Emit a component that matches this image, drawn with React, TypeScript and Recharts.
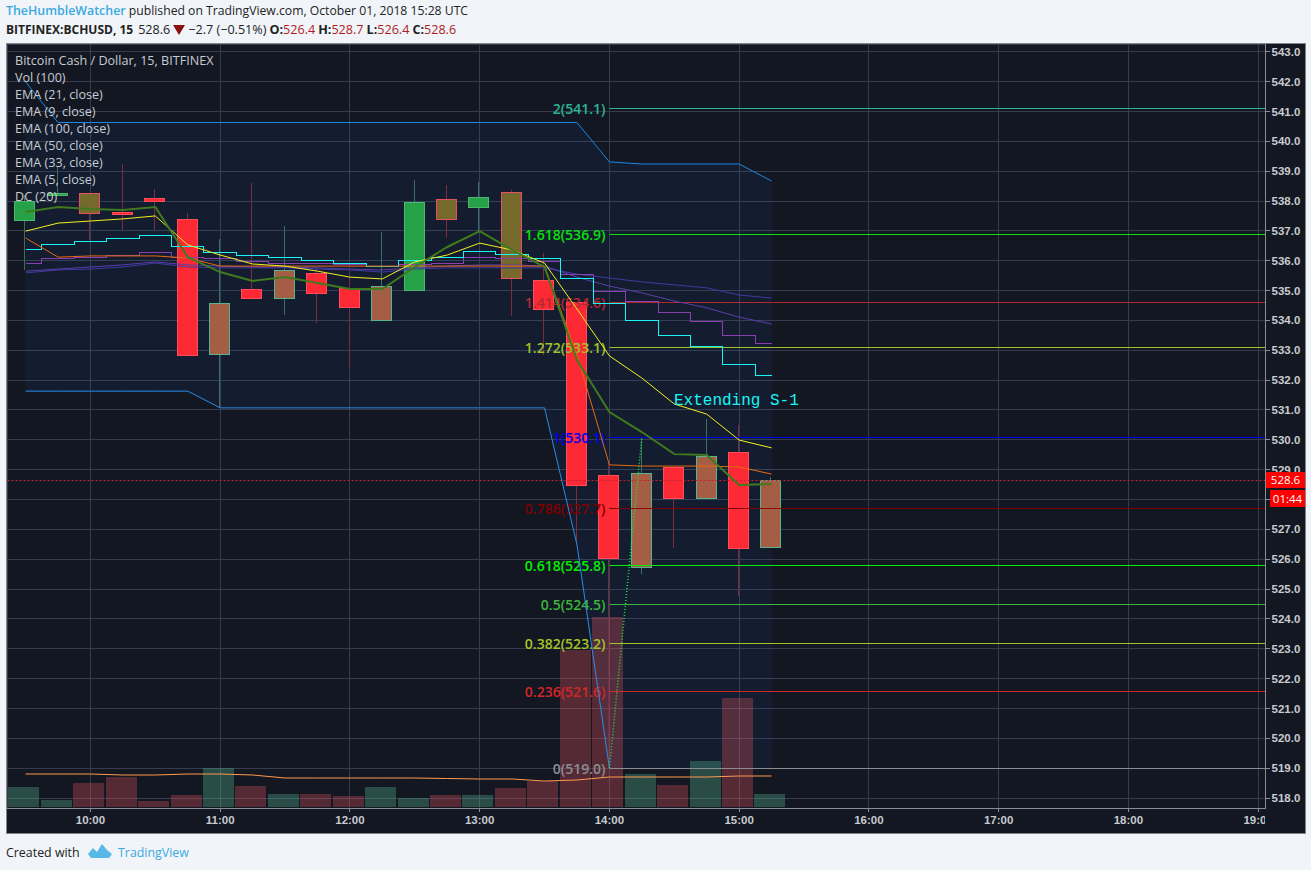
import React from 'react';
import {
  ComposedChart, Bar, Line, Area, XAxis, YAxis, CartesianGrid, ReferenceLine,
} from 'recharts';

// bar times, minutes since midnight
const times = [570, 585, 600, 615, 630, 645, 660, 675, 690, 705, 720, 735, 750, 765, 780, 795, 810, 825, 840, 855, 870, 885, 900, 915];

const opens = [537.36, 538.2, 538.27, 537.63, 538.1, 537.4, 532.87, 535.05, 534.75, 535.59, 535.09, 534.01, 535.02, 538.07, 537.8, 538.3, 535.35, 534.62, 528.82, 525.74, 529.09, 528.05, 529.59, 526.4];
const highs = [538.2, 539.14, 538.27, 539.24, 538.4, 537.6, 536.73, 538.6, 537.16, 535.79, 535.45, 536.96, 538.7, 538.54, 538.64, 538.37, 536.26, 534.62, 529.22, 530.06, 529.09, 530.7, 530.5, 528.75];
const lows = [535.69, 538.2, 536.69, 537.03, 537.03, 532.84, 531.07, 534.75, 534.18, 533.91, 532.41, 534.01, 535.02, 536.76, 536.99, 534.15, 532.84, 526.48, 519.0, 525.5, 526.38, 528.0, 524.77, 526.4];
const closes = [538.0, 538.27, 537.6, 537.56, 538.0, 532.84, 534.58, 534.75, 535.69, 534.92, 534.45, 535.15, 537.97, 537.4, 538.13, 535.42, 534.38, 528.49, 526.04, 528.89, 528.05, 529.46, 526.38, 528.65];
// bars whose body colour is overridden by the bar-colour script
const repainted = [false, false, true, false, false, false, true, false, true, false, false, true, false, true, false, true, false, false, false, true, false, true, false, true];

const volumes = [20, 7, 24, 30, 6, 12, 39, 21, 13, 13, 11, 20, 9, 12, 12, 19, 26, 157, 190, 33, 22, 46, 109, 13];
const volumeMa = [33, 33, 33, 32, 32, 33, 33, 32, 29, 29, 29, 29, 29, 28.5, 28, 28, 26, 27, 30, 30, 30, 30, 31, 31];
const volumeUp = [true, true, false, false, false, false, true, false, true, false, false, true, true, false, true, false, false, false, false, true, false, true, false, true];

const ema5 = [537.63, 537.8, 537.73, 537.7, 537.8, 536.12, 535.62, 535.32, 535.45, 535.25, 535.05, 535.05, 535.79, 536.46, 536.99, 536.36, 535.79, 532.67, 530.93, 530.26, 529.52, 529.49, 528.49, 528.52];
const ema9 = [536.99, 537.26, 537.33, 537.4, 537.5, 536.53, 536.19, 535.89, 535.82, 535.65, 535.45, 535.39, 535.96, 536.19, 536.59, 536.36, 535.92, 534.38, 532.81, 532.07, 531.2, 530.86, 529.99, 529.73];
const ema21 = [536.76, 536.12, 536.16, 536.16, 536.16, 536.09, 535.82, 535.82, 535.82, 535.82, 535.82, 535.82, 535.82, 535.82, 535.82, 535.82, 535.82, 532.84, 529.16, 529.12, 529.12, 529.12, 529.09, 528.85];
const ema33 = [536.36, 536.53, 536.63, 536.73, 536.83, 536.46, 536.29, 536.16, 536.12, 536.02, 535.89, 535.79, 536.02, 536.12, 536.32, 536.22, 536.06, 535.39, 534.55, 534.01, 533.48, 533.11, 532.51, 532.17];
const ema50 = [535.92, 536.06, 536.12, 536.19, 536.29, 536.12, 536.06, 535.96, 535.92, 535.89, 535.86, 535.82, 535.86, 535.92, 536.12, 536.09, 535.99, 535.55, 534.98, 534.62, 534.25, 533.95, 533.51, 533.24];
const emaSlow = [535.65, 535.72, 535.79, 535.86, 535.96, 535.86, 535.82, 535.79, 535.79, 535.76, 535.72, 535.69, 535.76, 535.82, 535.86, 535.86, 535.82, 535.45, 535.15, 534.92, 534.65, 534.42, 534.11, 533.88];
const ema100 = [535.59, 535.69, 535.72, 535.79, 535.92, 535.79, 535.76, 535.76, 535.76, 535.72, 535.69, 535.62, 535.72, 535.76, 535.76, 535.76, 535.76, 535.55, 535.42, 535.29, 535.19, 535.09, 534.85, 534.75];

const dcUpper = [541.99, 540.63, 540.63, 540.63, 540.63, 540.63, 540.63, 540.63, 540.63, 540.63, 540.63, 540.63, 540.63, 540.63, 540.63, 540.63, 540.63, 540.63, 539.31, 539.24, 539.24, 539.24, 539.24, 538.67];
const dcLower = [531.63, 531.63, 531.63, 531.63, 531.63, 531.63, 531.07, 531.07, 531.07, 531.07, 531.07, 531.07, 531.07, 531.07, 531.07, 531.07, 531.07, 526.48, 519.0, 519.0, 519.0, 519.0, 519.0, 519.0];

const fibRatios = ['2', '1.618', '1.414', '1.272', '1', '0.786', '0.618', '0.5', '0.382', '0.236', '0'];
const fibPrices = [541.1, 536.9, 534.6, 533.1, 530.1, 527.7, 525.8, 524.5, 523.2, 521.6, 519.0];
const fibColors = ['#2bb594', '#0be00b', '#b02a30', '#a0c22a', '#0000f0', '#800000', '#06f006', '#3cb53c', '#a5c427', '#d32626', '#8a8d93'];

const priceTicks = [518, 519, 520, 521, 522, 523, 524, 525, 526, 527, 528, 529, 530, 531, 532, 533, 534, 535, 536, 537, 538, 539, 540, 541, 542, 543];
const timeTicks = [600, 660, 720, 780, 840, 900, 960, 1020, 1080, 1140];
const legendNames = ['Bitcoin Cash / Dollar, 15, BITFINEX', 'Vol (100)', 'EMA (21, close)', 'EMA (9, close)', 'EMA (100, close)', 'EMA (50, close)', 'EMA (33, close)', 'EMA (5, close)', 'DC (20)'];

const rows = times.map((t, i) => ({
  t,
  open: opens[i],
  high: highs[i],
  low: lows[i],
  close: closes[i],
  repainted: repainted[i],
  vol: volumes[i],
  volUp: volumeUp[i],
  volMa: volumeMa[i],
  ema5: ema5[i],
  ema9: ema9[i],
  ema21: ema21[i],
  ema33: ema33[i],
  ema50: ema50[i],
  emaSlow: emaSlow[i],
  ema100: ema100[i],
  dcUpper: dcUpper[i],
  dcLower: dcLower[i],
  dcLowerLine: t <= 840 ? dcLower[i] : null,
  // dotted fib trend line from the 14:00 low to the 14:15 high
  trend: t === 840 ? 519.0 : t === 855 ? 530.1 : null,
}));

const BG = '#131722';
const GRID = '#363c4e';
const TIME_DOMAIN: [number, number] = [561.4, 1143.4];

function Candle({ x, y, width, height, payload }: any) {
  const { open, high, low, close, repainted: painted } = payload;
  const px = (p: number) => y + ((high - p) / (high - low)) * height;
  const up = close >= open;
  const top = px(Math.max(open, close));
  const bottom = px(Math.min(open, close));
  const mid = Math.round(x + width / 2) - 0.5;
  const border = up ? (painted ? '#55b58c' : '#4db672') : painted ? '#e4505f' : '#ff4d5b';
  const body = painted ? (up ? '#a55e45' : '#75692c') : up ? '#27a147' : '#fd2a35';
  const wick = up ? '#3d6e63' : '#7d2c3e';
  return (
    <g>
      <line x1={mid} x2={mid} y1={y} y2={y + height} stroke={wick} strokeWidth={1} />
      <rect
        x={mid - 10}
        y={Math.round(top) + 0.5}
        width={20}
        height={Math.max(Math.round(bottom - top), 1)}
        fill={body}
        stroke={border}
        strokeWidth={1}
      />
    </g>
  );
}

// the platform draws its volume columns a touch left of the bar time
function VolumeColumn({ x, y, width, height, payload }: any) {
  return (
    <rect
      x={Math.round(x) - 2}
      y={y}
      width={width}
      height={height}
      fill={payload.volUp ? 'rgba(92,200,154,0.3)' : 'rgba(239,86,100,0.3)'}
    />
  );
}

// level lines sit on whole pixels, so they stay one pixel wide
function LevelLine({ x1, x2, y1, stroke, strokeDasharray }: any) {
  const y = Math.round(y1) + 0.5;
  return <line x1={x1} x2={x2} y1={y} y2={y} stroke={stroke} strokeWidth={1} strokeDasharray={strokeDasharray} />;
}

function FibLabel({ viewBox, text, color }: any) {
  return (
    <text
      x={viewBox.x - 4}
      y={viewBox.y + 6}
      textAnchor="end"
      fill={color}
      fontSize={14}
      fontWeight={600}
      fontFamily="'Open Sans', sans-serif"
    >
      {text}
    </text>
  );
}

const font = "'Open Sans', sans-serif";
const redValue = { color: '#b01c1c' };
const crisp = `.recharts-cartesian-grid line, .recharts-cartesian-axis-line, .recharts-cartesian-axis-tick-line, .step-line path { shape-rendering: crispEdges; }`;

export default function App() {
  return (
    <div style={{ position: 'fixed', left: 0, top: 0, width: 1311, height: 870, background: '#f1f5f9', fontFamily: font, overflow: 'hidden' }}>
      <style>{crisp}</style>
      {/* header */}
      <div style={{ position: 'absolute', left: 6, top: 2, fontSize: 12.2, whiteSpace: 'nowrap', color: '#222' }}>
        <span style={{ color: '#3ba9e0', fontWeight: 600, fontSize: 12.4 }}>TheHumbleWatcher</span> published on TradingView.com, October 01, 2018 15:28 UTC
      </div>
      <div style={{ position: 'absolute', left: 6, top: 21, fontSize: 12.6, whiteSpace: 'nowrap', color: '#222', display: 'flex', alignItems: 'center', gap: 3 }}>
        <b style={{ fontSize: 12 }}>BITFINEX:BCHUSD, 15</b>
        <span style={{ marginLeft: 2 }}>528.6</span>
        <svg width={12} height={10} viewBox="0 0 12 10"><path d="M0 0 L12 0 L6 10 Z" fill="#8b1010" /></svg>
        <span>−2.7 (−0.51%)</span>
        <span><b>O:</b><span style={redValue}>526.4</span></span>
        <span><b>H:</b><span style={redValue}>528.7</span></span>
        <span><b>L:</b><span style={redValue}>526.4</span></span>
        <span><b>C:</b><span style={redValue}>528.6</span></span>
      </div>

      {/* chart panel */}
      <div style={{ position: 'absolute', left: 6, top: 43, width: 1298, height: 789, background: BG, border: '1px solid #80848c' }}>
        <ComposedChart
          width={1298}
          height={789}
          data={rows}
          margin={{ top: 0, right: 0, bottom: 0, left: 0 }}
        >
          <CartesianGrid stroke={GRID} strokeWidth={1} yAxisId="price" />
          <XAxis
            dataKey="t"
            type="number"
            domain={TIME_DOMAIN}
            ticks={timeTicks}
            interval={0}
            allowDataOverflow
            height={25}
            tickSize={4}
            tickMargin={4}
            stroke="#8a8d93"
            tick={{ fill: '#c8cbd0', fontSize: 11.5, fontWeight: 700, fontFamily: "'Liberation Sans', sans-serif" }}
            tickFormatter={(m: number) => `${Math.floor(m / 60)}:00`}
          />
          {/* second time axis so the volume bars do not share slots with the candles */}
          <XAxis xAxisId="volTime" dataKey="t" type="number" domain={TIME_DOMAIN} allowDataOverflow hide height={25} />
          <YAxis
            yAxisId="price"
            orientation="right"
            type="number"
            domain={[517.665, 543.26]}
            ticks={priceTicks}
            interval={0}
            allowDataOverflow
            width={39.5}
            tickSize={4}
            tickMargin={2}
            stroke="#8a8d93"
            tick={{ fill: '#c8cbd0', fontSize: 11.5, fontWeight: 700, fontFamily: "'Liberation Sans', sans-serif" }}
            tickFormatter={(v: number) => v.toFixed(1)}
          />
          <YAxis yAxisId="vol" hide type="number" domain={[-1, 763]} allowDataOverflow />

          <Area
            yAxisId="price"
            dataKey={(d: any) => [d.dcLower, Math.min(d.dcUpper, dcUpper[1])]}
            stroke="none"
            fill="#1a7ff0"
            fillOpacity={0.065}
            dot={false}
            activeDot={false}
            isAnimationActive={false}
          />

          <Bar xAxisId="volTime" yAxisId="vol" dataKey="vol" barSize={31} shape={<VolumeColumn />} isAnimationActive={false} />
          <Line yAxisId="vol" dataKey="volMa" stroke="#ff9a4d" strokeWidth={1} dot={false} isAnimationActive={false} />

          <ReferenceLine yAxisId="price" y={closes[closes.length - 1]} stroke="#c8202c" strokeDasharray="2 2" shape={<LevelLine />} />
          {fibPrices.map((p, i) => (
            <ReferenceLine
              key={fibRatios[i]}
              yAxisId="price"
              segment={[{ x: 840, y: p }, { x: TIME_DOMAIN[1], y: p }]}
              stroke={fibColors[i]}
              strokeWidth={1}
              shape={<LevelLine />}
              label={<FibLabel text={`${fibRatios[i]}(${p.toFixed(1)})`} color={fibColors[i]} />}
            />
          ))}

          <Line yAxisId="price" dataKey="ema100" stroke="#3f3aa0" strokeWidth={1} dot={false} isAnimationActive={false} />
          <Line yAxisId="price" dataKey="emaSlow" stroke="#5b3fa8" strokeWidth={1} dot={false} isAnimationActive={false} />
          <Line className="step-line" yAxisId="price" type="step" dataKey="ema50" stroke="#8a3fb0" strokeWidth={1} dot={false} isAnimationActive={false} />
          <Line className="step-line" yAxisId="price" type="step" dataKey="ema33" stroke="#19f5f5" strokeWidth={1} dot={false} isAnimationActive={false} />
          <Line yAxisId="price" dataKey="ema21" stroke="#e8690f" strokeWidth={1} dot={false} isAnimationActive={false} />
          <Line yAxisId="price" dataKey="ema9" stroke="#f5f01e" strokeWidth={1} dot={false} isAnimationActive={false} />
          <Line yAxisId="price" dataKey="ema5" stroke="#3f7a1e" strokeWidth={2} dot={false} isAnimationActive={false} />
          <Line yAxisId="price" dataKey="dcUpper" stroke="#1e88e5" strokeWidth={1} dot={false} isAnimationActive={false} />
          <Line yAxisId="price" dataKey="dcLowerLine" stroke="#2a8ce8" strokeWidth={1} dot={false} isAnimationActive={false} />
          <Line yAxisId="price" dataKey="trend" stroke="#1ee040" strokeWidth={1.5} strokeDasharray="1 2" dot={false} isAnimationActive={false} />

          <Bar
            yAxisId="price"
            dataKey={(d: any) => [d.low, d.high]}
            barSize={20}
            shape={<Candle />}
            isAnimationActive={false}
          />
        </ComposedChart>

        {/* covers the part of the last time label that runs past the plot */}
        <div style={{ position: 'absolute', left: 1258, top: 767, width: 40, height: 22, background: BG }} />

        {/* indicator legend */}
        <div style={{ position: 'absolute', left: 8, top: 8, fontSize: 12.6, lineHeight: '17px', color: '#c8ccd2', whiteSpace: 'nowrap' }}>
          {legendNames.map((n) => <div key={n}>{n}</div>)}
        </div>

        <div style={{ position: 'absolute', left: 667, top: 347, fontSize: 16, lineHeight: '20px', color: '#19f5f5', fontFamily: "'Liberation Mono', monospace", whiteSpace: 'nowrap' }}>
          Extending S-1
        </div>

        {/* last price and countdown tags */}
        <div style={{ position: 'absolute', left: 1259, top: 428, width: 39, height: 16, background: '#ff0000', color: '#fff', fontSize: 11.5, lineHeight: '16px', textAlign: 'center' }}>528.6</div>
        <div style={{ position: 'absolute', left: 1263, top: 446, width: 35, height: 17, background: '#ff0000', color: '#fff', fontSize: 11.5, lineHeight: '17px', textAlign: 'center' }}>01:44</div>
      </div>

      {/* footer */}
      <div style={{ position: 'absolute', left: 6, top: 844, fontSize: 12.4, color: '#222', whiteSpace: 'nowrap' }}>Created with</div>
      <svg style={{ position: 'absolute', left: 88, top: 843 }} width={24} height={16} viewBox="0 0 24 16">
        <path d="M0 11 L5 5 L9 9 L14 1 L19 7 L24 11 L21 15 L3 15 Z" fill="#58b8e8" />
      </svg>
      <div style={{ position: 'absolute', left: 118, top: 844, fontSize: 12.4, color: '#3ba9e0', whiteSpace: 'nowrap' }}>TradingView</div>
    </div>
  );
}
